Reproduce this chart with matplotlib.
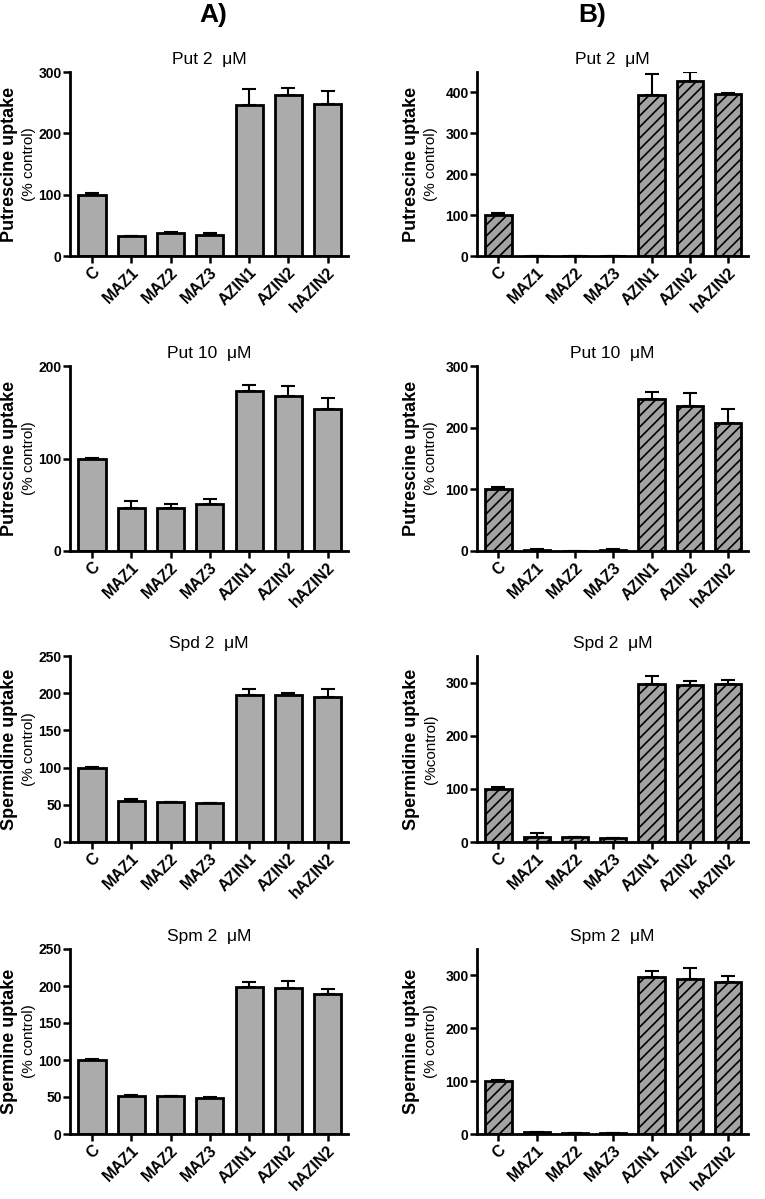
import numpy as np
import matplotlib
matplotlib.use("Agg")
import matplotlib.pyplot as plt

plt.rcParams['font.family'] = ['Liberation Sans', 'DejaVu Sans']
plt.rcParams['hatch.linewidth'] = 1.2

groups = ["C", "MAZ1", "MAZ2", "MAZ3", "AZIN1", "AZIN2", "hAZIN2"]

# column A
a_put2 = [100, 32, 37, 35, 246, 263, 248]
a_put2_err = [2, 1, 2, 2, 26, 11, 21]
a_put10 = [100, 47, 46, 51, 173, 168, 153]
a_put10_err = [1, 7, 5, 5, 6, 10, 12]
a_spd2 = [99, 55, 54, 53, 198, 197, 195]
a_spd2_err = [2, 3, 0, 0, 8, 3, 11]
a_spm2 = [100, 52, 51, 49, 198, 197, 189]
a_spm2_err = [1, 1, 0, 1, 7, 10, 7]

# column B
b_put2 = [101, 1, 1, 1, 394, 428, 396]
b_put2_err = [4, 0, 0, 0, 52, 21, 3]
b_put10 = [100, 2, 0.5, 1.5, 246, 235, 207]
b_put10_err = [3, 1, 0, 1, 12, 22, 24]
b_spd2 = [100, 10, 9, 7, 298, 296, 298]
b_spd2_err = [3, 6, 1, 0, 15, 7, 7]
b_spm2 = [100, 3, 2, 1, 297, 294, 287]
b_spm2_err = [2, 1, 0, 0, 12, 20, 11]

titles = ["Put 2  \u03bcM", "Put 10  \u03bcM", "Spd 2  \u03bcM", "Spm 2  \u03bcM"]
ylab = ["Putrescine uptake", "Putrescine uptake", "Spermidine uptake", "Spermine uptake"]
sub_a = ["(% control)"] * 4
sub_b = ["(% control)", "(% control)", "(%control)", "(% control)"]

col_a = [(a_put2, a_put2_err), (a_put10, a_put10_err), (a_spd2, a_spd2_err), (a_spm2, a_spm2_err)]
col_b = [(b_put2, b_put2_err), (b_put10, b_put10_err), (b_spd2, b_spd2_err), (b_spm2, b_spm2_err)]
ylims_a = [(300, [0, 100, 200, 300]), (200, [0, 100, 200]), (250, [0, 50, 100, 150, 200, 250]), (250, [0, 50, 100, 150, 200, 250])]
ylims_b = [(450, [0, 100, 200, 300, 400]), (300, [0, 100, 200, 300]), (350, [0, 100, 200, 300]), (350, [0, 100, 200, 300])]

W, H = 765, 1199
fig = plt.figure(figsize=(W / 100, H / 100), dpi=100)

row_px = [(72, 256), (366, 551), (656, 842), (949, 1134)]
col_px = [(70, 348), (477, 748)]


def draw(ax, vals, errs, ylim, ticks, title, hatched):
    x = np.arange(len(groups))
    if hatched:
        ax.bar(x, vals, width=0.69, color="#a3a3a3", edgecolor="black", linewidth=2, hatch="///", zorder=2)
    else:
        ax.bar(x, vals, width=0.69, color="#ababab", edgecolor="black", linewidth=2, zorder=2)
    ax.errorbar(x, vals, yerr=[np.zeros(len(vals)), errs], fmt="none", ecolor="black",
                elinewidth=1.5, capsize=5, capthick=1.5, zorder=1)
    ax.set_xlim(-0.56, 6.52)
    ax.set_ylim(0, ylim)
    ax.set_yticks(ticks)
    ax.set_xticks(x)
    ax.set_xticklabels(groups, rotation=45, ha="right", rotation_mode="anchor", fontweight="bold", fontsize=11.5)
    for lab in ax.get_yticklabels():
        lab.set_fontweight("bold")
        lab.set_fontsize(10)
    for s in ["top", "right"]:
        ax.spines[s].set_visible(False)
    for s in ["left", "bottom"]:
        ax.spines[s].set_linewidth(2)
    ax.tick_params(axis="both", direction="out", length=5, width=1.8, pad=1)
    ax.set_title(title, fontsize=12.5, pad=6)


for r in range(4):
    for c in range(2):
        x0, x1 = col_px[c]
        y0, y1 = row_px[r]
        ax = fig.add_axes([x0 / W, 1 - y1 / H, (x1 - x0) / W, (y1 - y0) / H])
        yc = 1 - (y0 + y1) / 2 / H
        if c == 0:
            vals, errs = col_a[r]
            ylim, ticks = ylims_a[r]
            draw(ax, vals, errs, ylim, ticks, titles[r], False)
            fig.text(10 / W, yc, ylab[r], rotation=90, ha="center", va="center",
                     fontsize=13, fontweight="bold")
            fig.text(29 / W, yc, sub_a[r], rotation=90, ha="center", va="center",
                     fontsize=11)
        else:
            vals, errs = col_b[r]
            ylim, ticks = ylims_b[r]
            draw(ax, vals, errs, ylim, ticks, titles[r], True)
            fig.text(411 / W, yc, ylab[r], rotation=90, ha="center", va="center",
                     fontsize=13, fontweight="bold")
            fig.text(431 / W, yc, sub_b[r], rotation=90, ha="center", va="center",
                     fontsize=11)

fig.text(213 / W, 1 - 15 / H, "A)", ha="center", va="center", fontsize=19, fontweight="bold")
fig.text(592 / W, 1 - 15 / H, "B)", ha="center", va="center", fontsize=19, fontweight="bold")

fig.savefig("out.png", dpi=100)
